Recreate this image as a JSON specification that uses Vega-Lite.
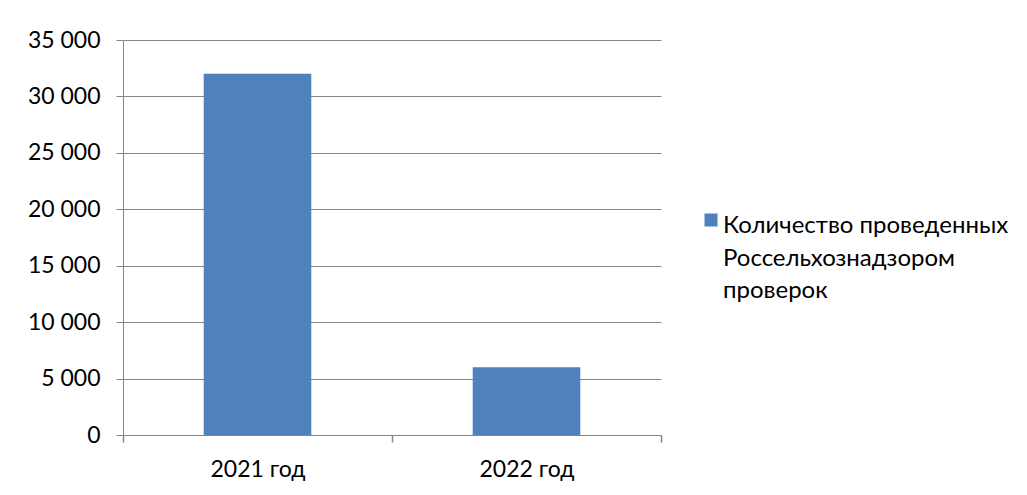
{
  "$schema": "https://vega.github.io/schema/vega-lite/v6.json",
  "width": 538,
  "height": 395,
  "autosize": {"type": "none"},
  "padding": {"left": 123, "top": 40, "right": 366, "bottom": 60},
  "background": "white",
  "data": {
    "values": [
      {"year": "2021 год", "series": "Количество проведенных Россельхознадзором проверок", "value": 32000},
      {"year": "2022 год", "series": "Количество проведенных Россельхознадзором проверок", "value": 6000}
    ]
  },
  "mark": {"type": "bar", "color": "#4F81BD", "width": {"band": 0.4}},
  "encoding": {
    "x": {
      "field": "year",
      "type": "nominal",
      "sort": null,
      "scale": {"paddingInner": 0, "paddingOuter": 0},
      "axis": {
        "title": null,
        "labelAngle": 0,
        "ticks": true,
        "tickBand": "extent",
        "tickExtra": true,
        "tickOpacity": 1,
        "tickWidth": 1.5,
        "domainColor": "#868686",
        "tickColor": "#868686",
        "tickSize": 7,
        "labelPadding": 16,
        "labelFont": "Lato",
        "labelFontSize": 23,
        "labelColor": "#000000"
      }
    },
    "y": {
      "field": "value",
      "type": "quantitative",
      "scale": {"domain": [0, 35000], "nice": false},
      "axis": {
        "title": null,
        "values": [0, 5000, 10000, 15000, 20000, 25000, 30000, 35000],
        "labelExpr": "replace(format(datum.value, ','), ',', ' ')",
        "domainColor": "#868686",
        "tickColor": "#868686",
        "gridColor": "#868686",
        "tickSize": 7,
        "labelPadding": 16,
        "labelFont": "Lato",
        "labelFontSize": 23,
        "labelColor": "#000000"
      }
    },
    "color": {
      "field": "series",
      "type": "nominal",
      "scale": {"range": ["#4F81BD"]},
      "legend": {
        "title": null,
        "orient": "none",
        "legendX": 576,
        "legendY": 168,
        "symbolType": "square",
        "symbolSize": 169,
        "symbolStrokeWidth": 0,
        "labelExpr": "[split(datum.label, ' ')[0] + ' ' + split(datum.label, ' ')[1], split(datum.label, ' ')[2], split(datum.label, ' ')[3]]",
        "labelFont": "Lato",
        "labelFontSize": 24,
        "labelColor": "#000000",
        "labelLimit": 400,
        "labelOffset": 0,
        "labelBaseline": "top",
        "encode": {"labels": {"update": {"lineHeight": {"value": 32.5}, "dy": {"value": -6}}}}
      }
    }
  },
  "config": {"view": {"stroke": null}}
}
